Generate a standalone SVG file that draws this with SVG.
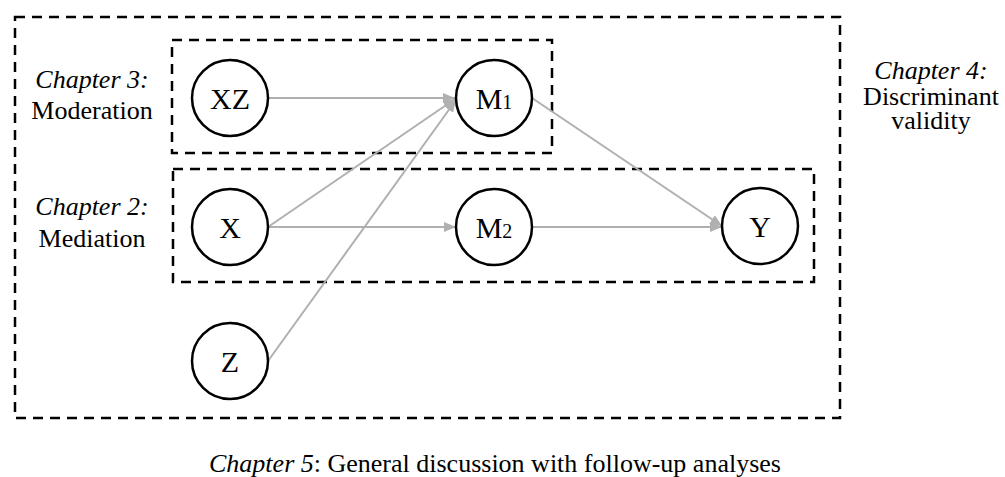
<svg xmlns="http://www.w3.org/2000/svg" width="1005" height="477" viewBox="0 0 1005 477">
  <style>
    .box { fill: none; stroke: #000; stroke-width: 2.5; stroke-dasharray: 10 7; }
    .node circle { fill: #fff; stroke: #000; stroke-width: 2.5; }
    .lbl { font-family: "Liberation Serif", "Times New Roman", serif; font-size: 30px; fill: #000; text-anchor: middle; }
    .sub { font-size: 20px; }
    .cap { font-family: "Liberation Serif", "Times New Roman", serif; font-size: 26px; fill: #000; text-anchor: middle; }
    .it { font-style: italic; }
    .edge { stroke: #b0b0b0; stroke-width: 2; fill: none; marker-end: url(#head); }
  </style>
  <defs>
    <marker id="head" viewBox="0 0 12 10" refX="12" refY="5" markerWidth="12" markerHeight="10" markerUnits="userSpaceOnUse" orient="auto">
      <path d="M0,0 L12,5 L0,10 Z" fill="#b0b0b0"/>
    </marker>
  </defs>

  <!-- chapter frames -->
  <g id="frames">
    <rect class="box" x="15" y="17" width="825" height="401"/>
    <rect class="box" x="172" y="40" width="380" height="113"/>
    <rect class="box" x="173" y="169" width="641" height="113"/>
  </g>

  <!-- connectors -->
  <g id="connectors">
    <line class="edge" x1="268" y1="98" x2="455" y2="98"/>
    <line class="edge" x1="268" y1="227" x2="455" y2="99"/>
    <line class="edge" x1="268" y1="361" x2="456" y2="100"/>
    <line class="edge" x1="268" y1="227" x2="456" y2="227"/>
    <line class="edge" x1="532" y1="98" x2="722" y2="226"/>
    <line class="edge" x1="532" y1="227" x2="722" y2="227"/>
  </g>

  <!-- nodes -->
  <g id="node-XZ" class="node">
    <circle cx="230" cy="98" r="38"/>
    <text class="lbl" x="230" y="109">XZ</text>
  </g>
  <g id="node-M1" class="node">
    <circle cx="494" cy="98" r="38"/>
    <text class="lbl" x="494" y="109">M<tspan class="sub">1</tspan></text>
  </g>
  <g id="node-X" class="node">
    <circle cx="230" cy="227" r="38"/>
    <text class="lbl" x="230" y="238">X</text>
  </g>
  <g id="node-M2" class="node">
    <circle cx="494" cy="227" r="38"/>
    <text class="lbl" x="494" y="238">M<tspan class="sub">2</tspan></text>
  </g>
  <g id="node-Y" class="node">
    <circle cx="760" cy="226" r="38"/>
    <text class="lbl" x="760" y="237">Y</text>
  </g>
  <g id="node-Z" class="node">
    <circle cx="230" cy="361" r="38"/>
    <text class="lbl" x="230" y="372">Z</text>
  </g>

  <!-- chapter captions -->
  <g id="captions">
    <text class="cap it" x="92" y="88">Chapter 3:</text>
    <text class="cap" x="92" y="119">Moderation</text>
    <text class="cap it" x="92" y="215">Chapter 2:</text>
    <text class="cap" x="92" y="247">Mediation</text>
    <text class="cap it" x="931" y="79">Chapter 4:</text>
    <text class="cap" x="931" y="105">Discriminant</text>
    <text class="cap" x="931" y="129">validity</text>
    <text class="cap" x="495" y="472"><tspan class="it">Chapter 5</tspan>: General discussion with follow-up analyses</text>
  </g>
</svg>
